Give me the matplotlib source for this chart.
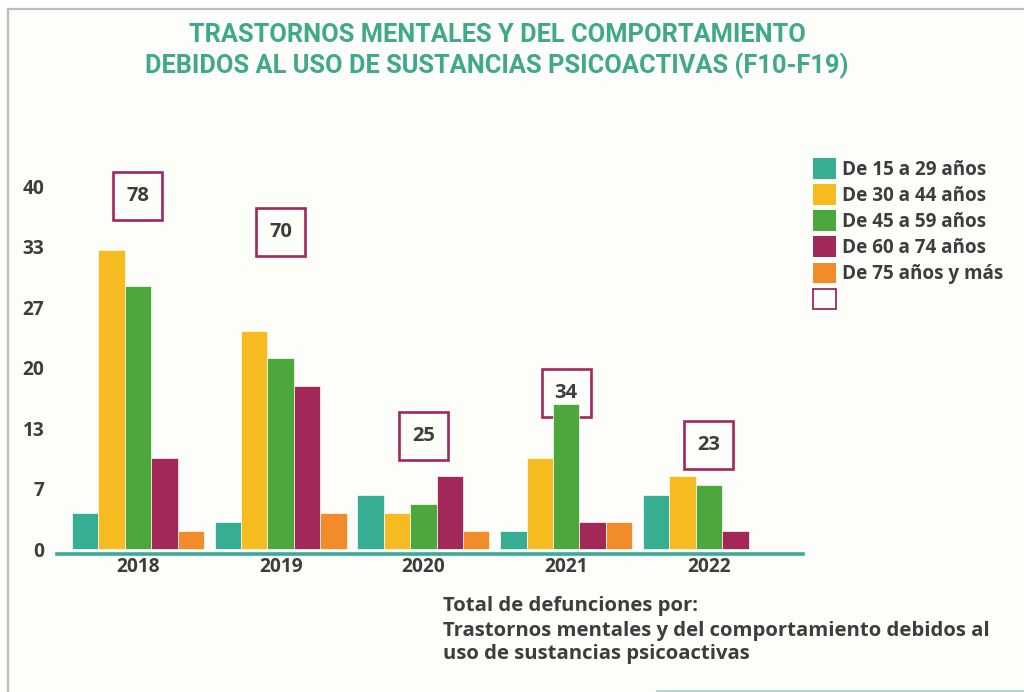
import matplotlib
matplotlib.use("Agg")
import matplotlib.pyplot as plt
from matplotlib.lines import Line2D
from matplotlib.patches import Patch, Rectangle
import numpy as np

# ── Data ────────────────────────────────────────────────────────────────
years = ["2018", "2019", "2020", "2021", "2022"]
age_groups = ["De 15 a 29 años", "De 30 a 44 años", "De 45 a 59 años",
              "De 60 a 74 años", "De 75 años y más"]
deaths_15_29 = [4, 3, 6, 2, 6]
deaths_30_44 = [33, 24, 4, 10, 8]
deaths_45_59 = [29, 21, 5, 16, 7]
deaths_60_74 = [10, 18, 8, 3, 2]
deaths_75_plus = [2, 4, 2, 3, 0]
totals = [78, 70, 25, 34, 23]
y_tick_values = [0, 40 / 6, 80 / 6, 20, 160 / 6, 200 / 6, 40]
y_tick_labels = ["0", "7", "13", "20", "27", "33", "40"]

# ── Style / layout ──────────────────────────────────────────────────────
_BG = "#fdfdf9"
_TEXT = "#3d3d3d"
_TITLE = "#3fa98a"
_COLORS = ["#37ae94", "#f7bb22", "#4ca83c", "#a2285a", "#f28c2a"]
_BOX_EDGE = "#a2285a"
_BASE = "#3aab9a"
_FONT = "Open Sans"
_BAR_W = 0.185
_BOX_Y = [38.9, 34.9, 12.45, 17.2, 11.5]   # label box centres (data units)
_BOX_W, _BOX_H = 0.343, 5.29

W, H = 1024, 692
fig = plt.figure(figsize=(W / 100, H / 100), dpi=100, facecolor=_BG)
ax = fig.add_axes([57 / W, 138 / H, 746 / W, 404.7 / H])
ax.set_facecolor("none")

series = [deaths_15_29, deaths_30_44, deaths_45_59, deaths_60_74, deaths_75_plus]
x = np.arange(len(years))
for i, vals in enumerate(series):
    ax.bar(x + (i - 2) * _BAR_W, vals, width=_BAR_W, color=_COLORS[i],
           edgecolor=_BG, linewidth=0.5, zorder=2)

# total boxes (bars drawn over them, as in the original)
for xi, tot, yb in zip(x, totals, _BOX_Y):
    ax.add_patch(Rectangle((xi - _BOX_W / 2, yb - _BOX_H / 2), _BOX_W, _BOX_H,
                           facecolor="none", edgecolor=_BOX_EDGE,
                           linewidth=1.9, zorder=1))
    ax.text(xi, yb, str(tot), ha="center", va="center", fontsize=14.5,
            fontweight="bold", color=_TEXT, family=_FONT, zorder=4)

ax.set_xlim(-0.567, 4.659)
ax.set_ylim(-0.55, 44.05)
ax.set_xticks(x, years)
ax.set_yticks(y_tick_values, y_tick_labels)
ax.tick_params(axis="both", length=0, labelcolor=_TEXT)
ax.tick_params(axis="x", pad=2)
ax.tick_params(axis="y", pad=9)
for lab in ax.get_xticklabels() + ax.get_yticklabels():
    lab.set_fontfamily(_FONT)
    lab.set_fontweight("bold")
    lab.set_fontsize(13.8)
for s in ["top", "right", "left"]:
    ax.spines[s].set_visible(False)
ax.spines["bottom"].set_color(_BASE)
ax.spines["bottom"].set_linewidth(2.6)

# legend
handles = [Patch(facecolor=c, edgecolor="none") for c in _COLORS]
handles.append(Patch(facecolor="none", edgecolor=_BOX_EDGE, linewidth=1.3))
fig.legend(handles, age_groups + [""], loc="upper left",
           bbox_to_anchor=(813 / W, 1 - 158 / H), frameon=False,
           borderpad=0, borderaxespad=0, handlelength=1.2, handleheight=1.3,
           handletextpad=0.36, labelspacing=0.24,
           prop={"family": _FONT, "weight": "bold", "size": 13.6},
           labelcolor=_TEXT)

# title
fig.text(497 / W, 1 - 35 / H, "TRASTORNOS MENTALES Y DEL COMPORTAMIENTO",
         ha="center", va="center", fontsize=18.3, fontweight="bold",
         color=_TITLE, family="Roboto")
fig.text(497 / W, 1 - 66 / H,
         "DEBIDOS AL USO DE SUSTANCIAS PSICOACTIVAS (F10-F19)",
         ha="center", va="center", fontsize=18.3, fontweight="bold",
         color=_TITLE, family="Roboto")

# footer note
note_lines = ["Total de defunciones por:",
              "Trastornos mentales y del comportamiento debidos al",
              "uso de sustancias psicoactivas"]
for line, ypx in zip(note_lines, [606, 631, 654]):
    fig.text(443 / W, 1 - ypx / H, line, ha="left", va="center",
             fontsize=14.6, fontweight="bold", color=_TEXT, family=_FONT)

# frame
fig.add_artist(Rectangle((0, 1 - 9 / H), 1, 9 / H, transform=fig.transFigure,
                         facecolor="white", edgecolor="none"))
fig.add_artist(Line2D([8 / W, 1], [1 - 9 / H, 1 - 9 / H], color="#bdbdbd",
                      linewidth=1.6, transform=fig.transFigure))
fig.add_artist(Line2D([8 / W, 8 / W], [0, 1 - 9 / H], color="#bdbdbd",
                      linewidth=1.6, transform=fig.transFigure))
fig.add_artist(Line2D([657 / W, 1], [1.5 / H, 1.5 / H], color="#a9d8cd",
                      linewidth=2, transform=fig.transFigure))

fig.savefig("out.png", dpi=100, facecolor=_BG)
